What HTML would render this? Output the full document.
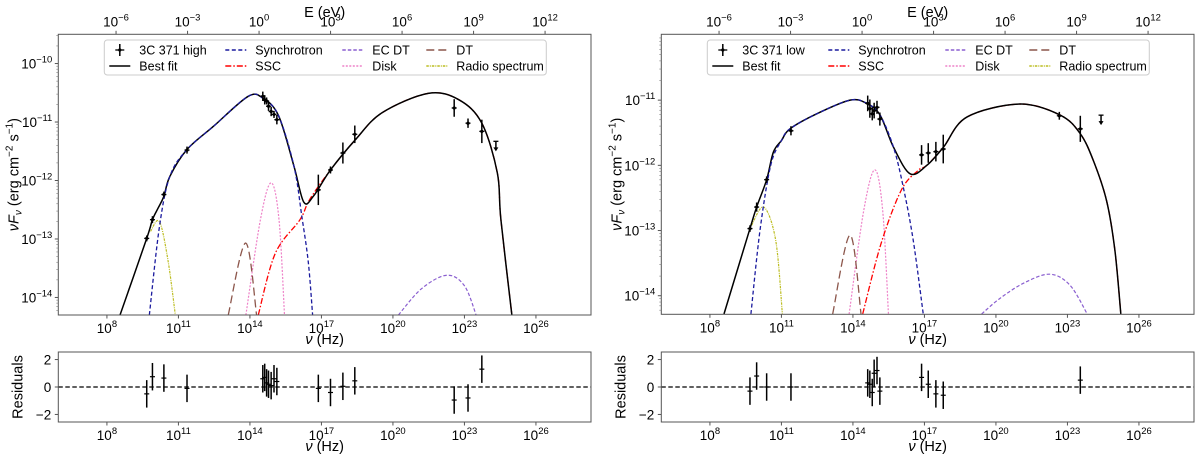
<!DOCTYPE html>
<html><head><meta charset="utf-8"><style>
html,body{margin:0;padding:0;background:#fff}
svg{display:block;font-family:"Liberation Sans","DejaVu Sans",sans-serif}
</style></head><body>
<svg id="fig" width="1200" height="461" viewBox="0 0 1200 461" xmlns="http://www.w3.org/2000/svg"></svg>
<script>
// ===== Data: left panel (3C 371 high) — log10(nu/Hz), log10(nuFnu) =====
const hiFitNu = [8.55,9.67,9.91,10.15,10.39,10.64,11.36,12.48,13.93,14.57,15.21,15.85,16.26,16.66,17.38,18.43,19.55,21.48,22.77,23.73,24.38,24.53,24.99];
const hiFitF  = [-14.3,-12.99,-12.67,-12.47,-12.27,-11.93,-11.47,-11.07,-10.56,-10.6,-10.9,-11.76,-12.37,-12.27,-11.82,-11.3,-10.84,-10.51,-10.62,-11.02,-11.87,-12.67,-14.3];
const hiSyncNu = [9.78,10.2,10.64,11.36,12.48,13.93,14.57,15.21,15.85,16.18,16.45,16.63];
const hiSyncF  = [-14.3,-12.8,-11.93,-11.47,-11.07,-10.56,-10.6,-10.9,-11.76,-12.62,-13.4,-14.3];
const hiSscNu = [14.35,15.06,16.1,16.5,17.38,18.43,19.55,21.48,22.77,23.73,24.38,24.53,24.99];
const hiSscF  = [-14.3,-13.25,-12.67,-12.33,-11.82,-11.3,-10.84,-10.51,-10.62,-11.02,-11.87,-12.67,-14.3];
const hiEcNu = [20.23,21.2,22.26,23.0,23.49];
const hiEcF  = [-14.3,-13.85,-13.62,-13.8,-14.3];
const hiDiskNu = [13.83,14.44,14.89,15.22,15.45];
const hiDiskF  = [-14.3,-12.67,-12.04,-12.67,-14.3];
const hiDtNu = [13.09,13.82,14.28];
const hiDtF  = [-14.3,-13.07,-14.3];
const hiRadioNu = [9.83,10.2,10.56,10.87];
const hiRadioF  = [-12.87,-12.7,-13.36,-14.3];
const hiPtNu  = [9.67,9.91,10.39,11.36,14.54,14.62,14.7,14.78,14.89,15.01,15.13,16.87,17.38,17.9,18.4,22.57,23.15,23.73];
const hiPtF   = [-12.99,-12.67,-12.24,-11.48,-10.56,-10.62,-10.64,-10.73,-10.82,-10.87,-10.96,-12.16,-11.82,-11.53,-11.21,-10.76,-11.02,-11.16];
const hiPtErr = [0.05,0.06,0.05,0.06,0.08,0.08,0.06,0.08,0.08,0.06,0.08,0.26,0.06,0.18,0.15,0.15,0.08,0.2];
const hiResid = [-0.5,0.75,0.65,-0.1,0.6,0.7,0.3,0.2,0.1,0.6,0.4,-0.1,-0.4,0.05,0.45,-0.95,-0.8,1.3];
const hiUlNu = [24.32];
const hiUlF  = [-11.33];
// ===== Data: right panel (3C 371 low) =====
const loFitNu = [8.59,9.68,9.96,10.38,10.66,11.0,11.36,12.48,13.88,14.58,15.14,15.7,16.4,17.1,17.8,18.78,21.0,22.7,23.53,24.08,24.64,24.99,25.24];
const loFitF  = [-14.28,-12.97,-12.64,-12.22,-11.8,-11.62,-11.44,-11.21,-11.0,-11.05,-11.23,-11.72,-12.13,-12.0,-11.72,-11.26,-11.06,-11.23,-11.51,-11.92,-12.54,-13.3,-14.28];
const loSyncNu = [9.72,10.1,10.55,11.0,11.36,12.48,13.88,14.58,15.14,15.7,16.11,16.53,16.95];
const loSyncF  = [-14.28,-13.0,-12.0,-11.62,-11.44,-11.21,-11.0,-11.05,-11.23,-11.72,-12.33,-13.15,-14.28];
const loSscNu = [14.41,15.18,16.03,16.73,17.1,17.8,18.78,21.0,22.7,23.53,24.08,24.64,24.99,25.24];
const loSscF  = [-14.28,-13.2,-12.38,-12.08,-12.0,-11.72,-11.26,-11.06,-11.23,-11.51,-11.92,-12.54,-13.3,-14.28];
const loEcNu = [19.4,20.17,21.2,22.27,23.11,23.83];
const loEcF  = [-14.28,-14.04,-13.8,-13.67,-13.84,-14.28];
const loDiskNu = [13.84,14.45,14.92,15.25,15.49];
const loDiskF  = [-14.28,-12.7,-12.07,-12.7,-14.28];
const loDtNu = [13.15,13.88,14.34];
const loDtF  = [-14.28,-13.07,-14.28];
const loRadioNu = [9.75,10.26,10.76,11.04];
const loRadioF  = [-12.92,-12.64,-13.15,-14.28];
const loPtNu  = [9.68,9.96,10.38,11.4,14.62,14.71,14.81,14.89,15.01,15.13,16.88,17.16,17.48,17.79,22.66,23.54];
const loPtF   = [-12.97,-12.64,-12.22,-11.47,-11.05,-11.13,-11.21,-11.16,-11.11,-11.29,-11.84,-11.81,-11.79,-11.75,-11.24,-11.44];
const loPtErr = [0.05,0.07,0.05,0.07,0.12,0.14,0.1,0.12,0.1,0.1,0.15,0.15,0.15,0.22,0.06,0.2];
const loResid = [-0.3,0.8,0.0,0.0,0.3,0.2,-0.4,1.0,1.2,-0.3,0.7,0.2,-0.5,-0.6,null,0.5];
const loUlNu = [24.41];
const loUlF  = [-11.23];
// ===== Axis ticks =====
const nuTicks = [8,11,14,17,20,23,26];
const eTicks  = [-6,-3,0,3,6,9,12];
const hiYTicks = [-10,-11,-12,-13,-14];
const loYTicks = [-11,-12,-13,-14];
const residTicks = [2,0,-2];
const legendLabels = [["3C 371 high","Synchrotron","EC DT","DT"],["Best fit","SSC","Disk","Radio spectrum"]];

const NS="http://www.w3.org/2000/svg";
const svg=document.getElementById('fig');
function mk(tag,attrs,parent){const e=document.createElementNS(NS,tag);for(const k in attrs)e.setAttribute(k,attrs[k]);(parent||svg).appendChild(e);return e;}
function supText(parent,x,y,base,sup,anchor,size){
  const t=mk('text',{x:x,y:y,'text-anchor':anchor||'middle','font-size':size||13.5,fill:'#000'},parent);
  t.appendChild(document.createTextNode(base));
  const s=mk('tspan',{dy:-6,'font-size':(size||13.5)*0.7},t);s.textContent=sup;
  return t;
}
function minus(n){return n<0?'\u2212'+Math.abs(n):String(n);}
function smoothPath(pts){
  if(pts.length<2)return '';
  let d='M'+pts[0][0].toFixed(2)+','+pts[0][1].toFixed(2);
  for(let i=0;i<pts.length-1;i++){
    const p0=pts[i-1]||pts[i],p1=pts[i],p2=pts[i+1],p3=pts[i+2]||p2;
    const c1=[p1[0]+(p2[0]-p0[0])/6,p1[1]+(p2[1]-p0[1])/6];
    const c2=[p2[0]-(p3[0]-p1[0])/6,p2[1]-(p3[1]-p1[1])/6];
    d+='C'+c1[0].toFixed(2)+','+c1[1].toFixed(2)+' '+c2[0].toFixed(2)+','+c2[1].toFixed(2)+' '+p2[0].toFixed(2)+','+p2[1].toFixed(2);
  }
  return d;
}

function panel(o){
  const g=mk('g',{});
  
  
  const X0=o.x0,X1=o.x0+532.7,NU0=5.96,NU1=28.31;
  const Y0=34.3,Y1=o.yBottom,F0=o.fTop,F1=o.fBottom;
  const sx=v=>X0+(v-NU0)/(NU1-NU0)*(X1-X0);
  const sy=v=>Y0+(F0-v)/(F0-F1)*(Y1-Y0);
  const RY0=352,RY1=422,R0=2.55,R1=-2.55;
  const ry=v=>RY0+(R0-v)/(R0-R1)*(RY1-RY0);
  const cid='clip-'+o.name;
  const cp=mk('clipPath',{id:cid},g);mk('rect',{x:X0,y:Y0,width:X1-X0,height:Y1-Y0},cp);
  // curves
  const series=[
    ['ec-dt-curve',o.ec,'#8a5fd0','3.5,2',1.2],
    ['disk-curve',o.disk,'#ee82c8','2,1.5',1.2],
    ['dt-curve',o.dt,'#8c564b','8,4',1.3],
    ['radio-spectrum-curve',o.radio,'#bcbd22','2.5,1,1,1',1.2],
    ['ssc-curve',o.ssc,'#ff0000','6,2,1.5,2',1.3],
    ['best-fit-curve',o.fit,'#000','',1.5],
    ['synchrotron-curve',o.sync,'#1a1a9e','4,2.5',1.3]
  ];
  const cg=mk('g',{'clip-path':'url(#'+cid+')'},g);
  series.forEach(s=>{
    const pts=s[1][0].map((n,i)=>[sx(n),sy(s[1][1][i])]);
    const p=mk('path',{d:smoothPath(pts),fill:'none',stroke:s[2],'stroke-width':s[4]},cg);
    if(s[3])p.setAttribute('stroke-dasharray',s[3]);
    
    
  });
  // data points
  const pg=mk('g',{},g);
  
  
  o.pts[0].forEach((n,i)=>{
    const x=sx(n),y=sy(o.pts[1][i]),e=o.pts[2][i];
    const pt=mk('g',{},pg);
    
    
    mk('line',{x1:x,x2:x,y1:sy(o.pts[1][i]+e),y2:sy(o.pts[1][i]-e),stroke:'#000','stroke-width':1.5},pt);
    mk('line',{x1:x-2.5,x2:x+2.5,y1:y,y2:y,stroke:'#000','stroke-width':1.3},pt);
    mk('circle',{cx:x,cy:y,r:1.6,fill:'#000'},pt);
  });
  o.ul[0].forEach((n,i)=>{
    const x=sx(n),y=sy(o.ul[1][i]);
    const u=mk('g',{},pg);
    
    
    mk('line',{x1:x,x2:x,y1:y,y2:y+8,stroke:'#000','stroke-width':1.5},u);
    mk('line',{x1:x-2.5,x2:x+2.5,y1:y,y2:y,stroke:'#000','stroke-width':1.3},u);
    mk('path',{d:'M'+(x-2.5)+','+(y+6)+'L'+(x+2.5)+','+(y+6)+'L'+x+','+(y+10)+'Z',fill:'#000'},u);
  });
  // frame
  const fr=mk('rect',{x:X0,y:Y0,width:X1-X0,height:Y1-Y0,fill:'none',stroke:'#555','stroke-width':1},g);
  
  
  // x ticks bottom
  nuTicks.forEach(t=>{const x=sx(t);mk('line',{x1:x,x2:x,y1:Y1,y2:Y1+3.5,stroke:'#555'},g);
    supText(g,x,Y1+18,'10',String(t));
    mk('line',{x1:x,x2:x,y1:RY1,y2:RY1+3.5,stroke:'#555'},g);
    supText(g,x,RY1+18,'10',String(t));});
  // top ticks (E)
  eTicks.forEach(t=>{const x=sx(t+14.383);mk('line',{x1:x,x2:x,y1:Y0,y2:Y0-3.5,stroke:'#555'},g);
    supText(g,x,Y0-8,'10',minus(t));});
  const el=mk('text',{x:(X0+X1)/2,y:17,'text-anchor':'middle','font-size':14.5},g);el.textContent='E (eV)';
  
  // y ticks
  o.yTicks.forEach(t=>{const y=sy(t);mk('line',{x1:X0,x2:X0-3.5,y1:y,y2:y,stroke:'#555'},g);
    supText(g,X0-6,y+5,'10',minus(t),'end');});
  for(let d=Math.floor(F1);d<Math.ceil(F0);d++){for(let m=2;m<10;m++){const v=d+Math.log10(m);if(v>F1&&v<F0){const y=sy(v);mk('line',{x1:X0,x2:X0-2,y1:y,y2:y,stroke:'#777','stroke-width':0.6},g);}}}
  const xl=mk('text',{x:(X0+X1)/2,y:344,'text-anchor':'middle','font-size':14.5},g);
  xl.innerHTML='<tspan font-style="italic">ν</tspan> (Hz)';
  
  const yl=mk('text',{x:0,y:0,'text-anchor':'middle','font-size':14.5,transform:'translate('+(X0-40)+','+((Y0+Y1)/2)+') rotate(-90)'},g);
  yl.innerHTML='<tspan font-style="italic">νF</tspan><tspan font-style="italic" font-size="10" dy="3">ν</tspan><tspan dy="-3"> (erg cm</tspan><tspan font-size="10" dy="-6">−2</tspan><tspan dy="6"> s</tspan><tspan font-size="10" dy="-6">−1</tspan><tspan dy="6">)</tspan>';
  
  // legend
  const lg=mk('g',{},g);
  
  
  mk('rect',{x:X0+46,y:40,width:442,height:35,rx:3,fill:'#fff','fill-opacity':0.85,stroke:'#ccc','stroke-width':1},lg);
  const colX=[X0+51,X0+167,X0+284,X0+368];
  const styles=[[null,['#1a1a9e','4,2.5'],['#8a5fd0','3.5,2'],['#8c564b','8,4']],[['#000',''],['#ff0000','6,2,1.5,2'],['#ee82c8','2,1.5'],['#bcbd22','2.5,1,1,1']]];
  const labels=[[o.label,legendLabels[0][1],legendLabels[0][2],legendLabels[0][3]],legendLabels[1]];
  for(let r=0;r<2;r++)for(let c=0;c<4;c++){
    const y=r?66:50,x=colX[c];
    const en=mk('g',{},lg);
    
    
    const st=styles[r][c];
    if(st){const l=mk('line',{x1:x,x2:x+21,y1:y,y2:y,stroke:st[0],'stroke-width':1.4},en);if(st[1])l.setAttribute('stroke-dasharray',st[1]);}
    else{mk('line',{x1:x+10.5,x2:x+10.5,y1:y-6,y2:y+6,stroke:'#000','stroke-width':1.5},en);mk('line',{x1:x+6,x2:x+15,y1:y,y2:y,stroke:'#000','stroke-width':1.3},en);mk('circle',{cx:x+10.5,cy:y,r:1.6},en);}
    const t=mk('text',{x:x+30,y:y+4.5,'font-size':12.5},en);t.textContent=labels[r][c];
  }
  // residual panel
  const rg=mk('g',{},g);
  
  
  mk('line',{x1:X0,x2:X1,y1:ry(0),y2:ry(0),stroke:'#000','stroke-width':1.2,'stroke-dasharray':'4.5,2.5'},rg);
  o.pts[0].forEach((n,i)=>{const r=o.resid[i];if(r===null||r===undefined)return;const x=sx(n);
    const rp=mk('g',{},rg);
    
    
    mk('line',{x1:x,x2:x,y1:ry(r+1),y2:ry(r-1),stroke:'#000','stroke-width':1.5},rp);
    mk('line',{x1:x-2.5,x2:x+2.5,y1:ry(r),y2:ry(r),stroke:'#000','stroke-width':1.2},rp);});
  mk('rect',{x:X0,y:RY0,width:X1-X0,height:RY1-RY0,fill:'none',stroke:'#555','stroke-width':1},rg);
  residTicks.forEach(t=>{const y=ry(t);mk('line',{x1:X0,x2:X0-3.5,y1:y,y2:y,stroke:'#555'},rg);
    const tt=mk('text',{x:X0-7,y:y+5,'text-anchor':'end','font-size':13.5},rg);tt.textContent=minus(t);});
  const rl=mk('text',{x:0,y:0,'text-anchor':'middle','font-size':14.5,transform:'translate('+(X0-36)+',387) rotate(-90)'},rg);rl.textContent='Residuals';
  
  const xl2=mk('text',{x:(X0+X1)/2,y:451,'text-anchor':'middle','font-size':14.5},rg);
  xl2.innerHTML='<tspan font-style="italic">ν</tspan> (Hz)';
}
panel({name:'high-state-panel',label:'3C 371 high',x0:58.3,yBottom:315,fTop:-9.5,fBottom:-14.3,yTicks:hiYTicks,
  fit:[hiFitNu,hiFitF],sync:[hiSyncNu,hiSyncF],ssc:[hiSscNu,hiSscF],ec:[hiEcNu,hiEcF],disk:[hiDiskNu,hiDiskF],dt:[hiDtNu,hiDtF],radio:[hiRadioNu,hiRadioF],
  pts:[hiPtNu,hiPtF,hiPtErr],resid:hiResid,ul:[hiUlNu,hiUlF]});
panel({name:'low-state-panel',label:'3C 371 low',x0:661.3,yBottom:314.3,fTop:-9.99,fBottom:-14.285,yTicks:loYTicks,
  fit:[loFitNu,loFitF],sync:[loSyncNu,loSyncF],ssc:[loSscNu,loSscF],ec:[loEcNu,loEcF],disk:[loDiskNu,loDiskF],dt:[loDtNu,loDtF],radio:[loRadioNu,loRadioF],
  pts:[loPtNu,loPtF,loPtErr],resid:loResid,ul:[loUlNu,loUlF]});
</script>
</body></html>
